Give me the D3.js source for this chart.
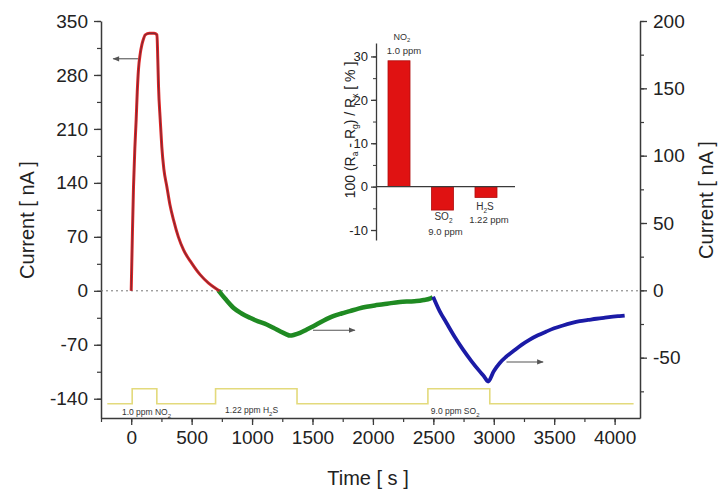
<!DOCTYPE html>
<html><head><meta charset="utf-8">
<script src="https://cdn.jsdelivr.net/npm/d3@7"></script>
<style>
body{margin:0;background:#fff;}
svg{font-family:"Liberation Sans",Arial,sans-serif;}
</style></head>
<body><svg id="c" width="721" height="490"></svg>
<script>
// ---- data ----
// red trace (left axis, nA)
const redT = [0, 10, 19, 30, 41, 50, 60, 75, 88, 100, 116, 150, 190, 213, 220, 226, 240, 253, 270, 295, 320, 350, 390, 433, 500, 570, 640, 700, 730];
const redV = [0, 75, 135, 185, 222, 258, 287, 308, 319, 326, 332, 334, 334, 332, 300, 265, 222, 187, 158, 135, 112, 92, 70, 53, 36, 21, 10, 3, 0];
// green trace (right axis, nA)
const greenT = [721, 780, 845, 910, 983, 1050, 1121, 1180, 1231, 1280, 1314, 1350, 1397, 1450, 1507, 1590, 1672, 1740, 1810, 1880, 1948, 2015, 2085, 2150, 2223, 2290, 2361, 2420, 2471, 2495];
const greenV = [0, -6.5, -12.9, -17, -20.4, -23, -25.4, -28, -30.4, -32.5, -33.6, -33, -31.6, -29.2, -26.6, -22.6, -19.2, -17.2, -15.4, -13.6, -12.2, -11.2, -10.4, -9.5, -8.7, -8.3, -8.0, -7.2, -6.2, -5.0];
// blue trace (right axis, nA)
const blueT = [2498, 2550, 2609, 2680, 2746, 2815, 2884, 2920, 2953, 3000, 3050, 3100, 3160, 3230, 3298, 3365, 3435, 3500, 3573, 3640, 3711, 3780, 3849, 3920, 3986, 4040, 4083];
const blueV = [-4.7, -15, -24.2, -35, -44.0, -52.5, -60.2, -64, -67.7, -60, -53.9, -49.5, -45.3, -40.5, -36.6, -33.4, -30.6, -28.2, -26.1, -24.4, -22.9, -22, -21.1, -20.3, -19.6, -19.1, -18.7];
// gas pulse indicator (left axis units)
const pulseT = [-198, 8, 8, 212, 212, 698, 698, 1372, 1372, 2455, 2455, 2967, 2967, 4157];
const pulseV = [-146.6, -146.6, -127, -127, -146.6, -146.6, -127, -127, -146.6, -146.6, -127, -127, -146.6, -146.6];
const gasLabelT = [-77, 777, 2479];
const gasLabelV = [-157.5, -154.5, -156];
const gasLabelPre = ["1.0 ppm NO", "1.22 ppm  H", "9.0 ppm  SO"];
const gasLabelPost = ["", "S", ""];
// axis arrows: [t0, t1, value, axis]
const arrowT0 = [58, 1504, 3105];
const arrowT1 = [-149, 1851, 3408];
const arrowV = [301, -29.6, -53.2];
const arrowAxis = ["left", "right", "right"];
// tick values
const xTicks = [0, 500, 1000, 1500, 2000, 2500, 3000, 3500, 4000];
const leftTicks = [-140, -70, 0, 70, 140, 210, 280, 350];
const rightTicks = [-50, 0, 50, 100, 150, 200];
// inset bar chart
const insetCats = ["NO2", "SO2", "H2S"];
const insetVals = [29.0, -5.4, -2.5];
const insetTicks = [-10, 0, 10, 20, 30];

// ---- layout ----
const svg = d3.select("#c");
const L = 101, R = 640, T = 21, B = 418;
const x = d3.scaleLinear().domain([-250, 4210]).range([L, R]);
const yL = d3.scaleLinear().domain([-165, 350]).range([B, T]);
const yR = d3.scaleLinear().domain([-94.8, 200]).range([B, T]);
const axisCol = "#3a3a3a";
const fmt = d => String(d); // plain hyphen minus like the original

function minorTicks(step, lo, hi) { const a = []; for (let v = Math.ceil(lo / step) * step; v <= hi + 1e-9; v += step) a.push(v); return a; }

function styleAxis(g, fs) {
  g.select(".domain").attr("stroke", axisCol).attr("stroke-width", 1.5);
  g.selectAll(".tick line").attr("stroke", axisCol).attr("stroke-width", 1.3);
  g.selectAll(".tick text").attr("fill", "#222").style("font-size", fs + "px").attr("font-family", "Liberation Sans, Arial, sans-serif");
}

// minor ticks
const gx = svg.append("g").attr("transform", `translate(0,${B})`);
gx.call(d3.axisBottom(x).tickValues(minorTicks(250, -250, 4210)).tickSize(4).tickFormat(""));
gx.call(g => g.select(".domain").remove());
gx.selectAll("line").attr("stroke", axisCol).attr("stroke-width", 1.2);
const gx2 = svg.append("g").attr("transform", `translate(0,${B})`)
  .call(d3.axisBottom(x).tickValues(xTicks).tickSize(7).tickSizeOuter(0).tickPadding(6).tickFormat(fmt));
styleAxis(gx2, 19);

const gl = svg.append("g").attr("transform", `translate(${L},0)`);
gl.call(d3.axisLeft(yL).tickValues(minorTicks(35, -165, 350)).tickSize(4).tickFormat(""));
gl.select(".domain").remove();
gl.selectAll("line").attr("stroke", axisCol).attr("stroke-width", 1.2);
const gl2 = svg.append("g").attr("transform", `translate(${L},0)`)
  .call(d3.axisLeft(yL).tickValues(leftTicks).tickSize(7).tickSizeOuter(0).tickPadding(6).tickFormat(fmt));
styleAxis(gl2, 19);

const gr = svg.append("g").attr("transform", `translate(${R},0)`);
gr.call(d3.axisRight(yR).tickValues(minorTicks(25, -94.8, 200)).tickSize(4).tickFormat(""));
gr.select(".domain").remove();
gr.selectAll("line").attr("stroke", axisCol).attr("stroke-width", 1.2);
const gr2 = svg.append("g").attr("transform", `translate(${R},0)`)
  .call(d3.axisRight(yR).tickValues(rightTicks).tickSize(7).tickSizeOuter(0).tickPadding(6).tickFormat(fmt));
styleAxis(gr2, 19);

// axis titles
svg.append("text").attr("transform", `translate(34,220) rotate(-90)`).attr("text-anchor", "middle")
  .style("font-size", "20px").attr("fill", "#222").text("Current [ nA ]");
svg.append("text").attr("transform", `translate(713,200) rotate(-90)`).attr("text-anchor", "middle")
  .style("font-size", "20px").attr("fill", "#222").text("Current [ nA ]");
svg.append("text").attr("x", 368).attr("y", 485).attr("text-anchor", "middle")
  .style("font-size", "20px").attr("fill", "#222").text("Time [ s ]");

// zero dotted line
svg.append("line").attr("x1", L).attr("x2", R).attr("y1", yL(0)).attr("y2", yL(0))
  .attr("stroke", "#777").attr("stroke-width", 1).attr("stroke-dasharray", "2,3");

// gas pulse
const pulse = pulseT.map((t, i) => [t, pulseV[i]]);
svg.append("path").datum(pulse).attr("fill", "none").attr("stroke", "#e3da7c").attr("stroke-width", 1.6)
  .attr("d", d3.line().x(d => x(d[0])).y(d => yL(d[1])));
gasLabelT.forEach((t, i) => {
  const tx = svg.append("text").attr("x", x(t)).attr("y", yL(gasLabelV[i]) + 3).style("font-size", "8.5px").attr("fill", "#333");
  tx.append("tspan").text(gasLabelPre[i]);
  tx.append("tspan").attr("dy", 3).style("font-size", "6px").text("2");
  if (gasLabelPost[i]) tx.append("tspan").attr("dy", -3).text(gasLabelPost[i]);
});

// traces
const red = redT.map((t, i) => [t, redV[i]]);
const green = greenT.map((t, i) => [t, greenV[i]]);
const blue = blueT.map((t, i) => [t, blueV[i]]);
const lineL = d3.line().x(d => x(d[0])).y(d => yL(d[1])).curve(d3.curveMonotoneX);
const lineR = d3.line().x(d => x(d[0])).y(d => yR(d[1])).curve(d3.curveMonotoneX);
svg.append("path").datum(green).attr("fill", "none").attr("stroke", "#1f8a22").attr("stroke-width", 4.5).attr("d", lineR);
svg.append("path").datum(blue).attr("fill", "none").attr("stroke", "#1b1ba6").attr("stroke-width", 3.8).attr("d", lineR);
svg.append("path").datum(red).attr("fill", "none").attr("stroke", "#e02525").attr("stroke-width", 3).attr("d", lineL);
svg.append("path").datum(red).attr("fill", "none").attr("stroke", "#7e2a36").attr("stroke-width", 1.1).attr("d", lineL);

// arrows
const defs = svg.append("defs");
defs.append("marker").attr("id", "ah").attr("viewBox", "0 0 10 10").attr("refX", 9).attr("refY", 5)
  .attr("markerWidth", 7).attr("markerHeight", 6).attr("orient", "auto")
  .append("path").attr("d", "M0,1 L10,5 L0,9 Z").attr("fill", "#555");
arrowT0.forEach((t, i) => {
  const ys = arrowAxis[i] === "left" ? yL : yR;
  svg.append("line").attr("x1", x(t)).attr("x2", x(arrowT1[i])).attr("y1", ys(arrowV[i])).attr("y2", ys(arrowV[i]))
    .attr("stroke", "#555").attr("stroke-width", 1.1).attr("marker-end", "url(#ah)");
});

// ---- inset ----
const ix = d3.scaleBand().domain(insetCats).range([376, 509]).paddingInner(0.494).paddingOuter(0.276);
const iy = d3.scaleLinear().domain([-12.3, 33.1]).range([240, 43]);
const gi = svg.append("g").attr("transform", `translate(376,0)`);
gi.call(d3.axisLeft(iy).tickValues(minorTicks(5, -12.3, 33.1)).tickSize(3).tickFormat(""));
gi.select(".domain").remove();
gi.selectAll("line").attr("stroke", axisCol);
const gi2 = svg.append("g").attr("transform", `translate(376,0)`)
  .call(d3.axisLeft(iy).tickValues(insetTicks).tickSize(5).tickSizeOuter(0).tickPadding(3).tickFormat(fmt));
styleAxis(gi2, 13);
gi2.select(".domain").attr("stroke-width", 1.3);
svg.selectAll("rect.bar").data(insetCats).enter().append("rect").attr("class", "bar")
  .attr("x", d => ix(d)).attr("width", ix.bandwidth())
  .attr("y", (d, i) => iy(Math.max(0, insetVals[i])))
  .attr("height", (d, i) => Math.abs(iy(insetVals[i]) - iy(0)))
  .attr("fill", "#e01212").attr("stroke", "#b00d0d").attr("stroke-width", 0.8);
svg.append("line").attr("x1", 376).attr("x2", 515).attr("y1", iy(0)).attr("y2", iy(0))
  .attr("stroke", axisCol).attr("stroke-width", 1.3);

// inset labels
function subLabel(cx, cy, pre, sub, post, fs) {
  const t = svg.append("text").attr("x", cx).attr("y", cy).attr("text-anchor", "middle").style("font-size", fs + "px").attr("fill", "#333");
  t.append("tspan").text(pre);
  t.append("tspan").attr("dy", 2.5).style("font-size", (fs * 0.65) + "px").text(sub);
  if (post) t.append("tspan").attr("dy", -2.5).text(post);
}
const cNO = ix("NO2") + ix.bandwidth() / 2, cSO = ix("SO2") + ix.bandwidth() / 2, cHS = ix("H2S") + ix.bandwidth() / 2;
subLabel(cNO + 3, iy(insetVals[0]) - 21, "NO", "2", "", 9);
svg.append("text").attr("x", cNO + 5).attr("y", iy(insetVals[0]) - 7).attr("text-anchor", "middle").style("font-size", "9.5px").attr("fill", "#333").text("1.0 ppm");
subLabel(cSO + 1, iy(insetVals[1]) + 10, "SO", "2", "", 10);
svg.append("text").attr("x", cSO + 3).attr("y", iy(insetVals[1]) + 25).attr("text-anchor", "middle").style("font-size", "9.5px").attr("fill", "#333").text("9.0 ppm");
subLabel(cHS - 1, iy(insetVals[2]) + 13, "H", "2", "S", 10);
svg.append("text").attr("x", cHS + 3).attr("y", iy(insetVals[2]) + 26).attr("text-anchor", "middle").style("font-size", "9.5px").attr("fill", "#333").text("1.22 ppm");

// inset y-title
const yt = svg.append("text").attr("transform", "translate(355,130) rotate(-90)").attr("text-anchor", "middle")
  .style("font-size", "14px").attr("fill", "#222");
yt.append("tspan").text("100 (R");
yt.append("tspan").attr("dy", 3).style("font-size", "8.5px").text("a");
yt.append("tspan").attr("dy", -3).text(" - R");
yt.append("tspan").attr("dy", 3).style("font-size", "8.5px").text("g");
yt.append("tspan").attr("dy", -3).text(") / R");
yt.append("tspan").attr("dy", 3).style("font-size", "8.5px").text("x");
yt.append("tspan").attr("dy", -3).text("  [ % ]");
</script></body></html>
